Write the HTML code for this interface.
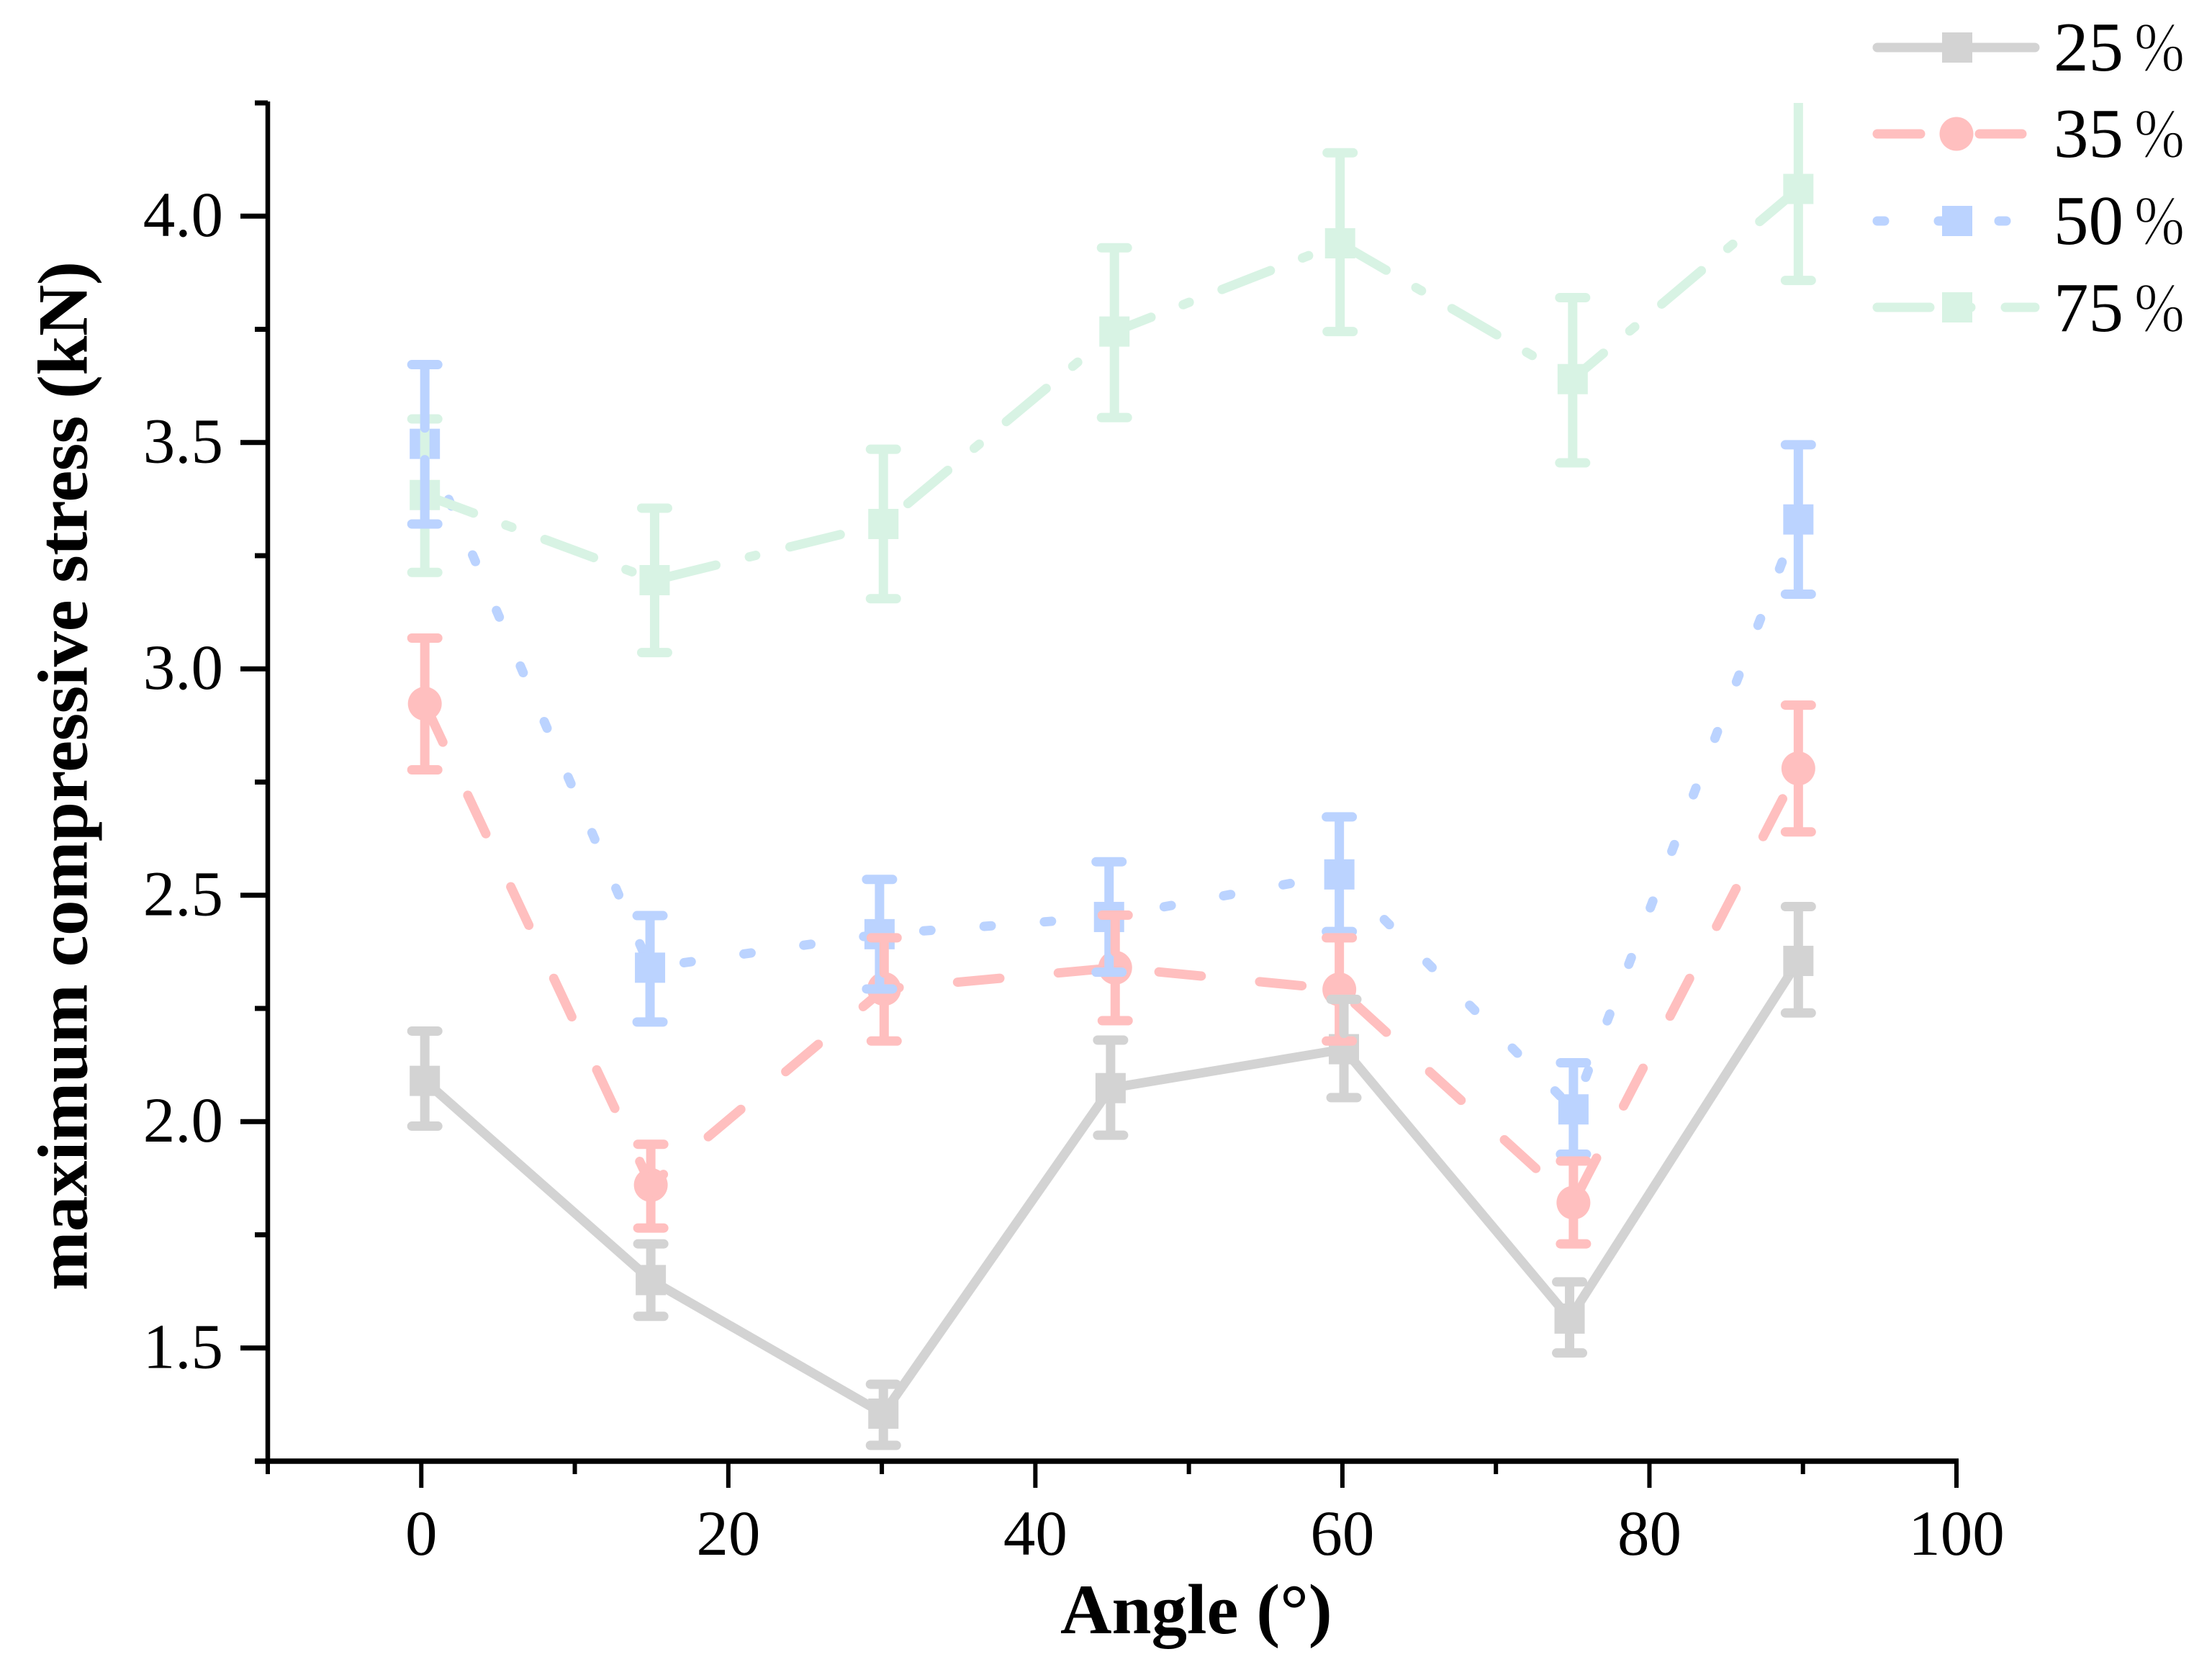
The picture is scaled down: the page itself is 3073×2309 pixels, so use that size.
<!DOCTYPE html>
<html lang="en">
<head>
<meta charset="utf-8">
<title>Maximum compressive stress vs angle</title>
<style>
html,body{margin:0;padding:0;background:#fff;}
svg{display:block;}
text{font-family:"Liberation Serif",serif;fill:#000;}
.pct{stroke:#fff;stroke-width:1.6px;}
</style>
</head>
<body>
<svg id="chart" xmlns="http://www.w3.org/2000/svg" width="3073" height="2309" viewBox="0 0 3073 2309">
  <rect width="3073" height="2309" fill="#ffffff"/>
  <defs><clipPath id="plot-clip"><rect x="340" y="143" width="2400" height="1890"/></clipPath></defs>
  <g id="plot" clip-path="url(#plot-clip)"></g>
  <g id="axes"></g>
  <text x="1473" y="2269" font-size="99" font-weight="bold">Angle (°)</text>
  <text transform="translate(120.5,1793) rotate(-90)" font-size="99" font-weight="bold" textLength="1430" lengthAdjust="spacing">maximum compressive stress (kN)</text>

  <g>
    <g>
      <line x1="2608" y1="66" x2="2827" y2="66" stroke="#D3D3D3" stroke-width="13" stroke-linecap="round"/>
      <rect x="2698" y="45" width="42" height="42" fill="#D3D3D3"/>
      <text x="2853" y="98" font-size="97">25</text>
      <text class="pct" x="2965" y="98" font-size="97" textLength="70" lengthAdjust="spacingAndGlyphs">%</text>
    </g>
    <g>
      <line x1="2608" y1="186" x2="2668" y2="186" stroke="#FFBFBF" stroke-width="13" stroke-linecap="round"/>
      <line x1="2750" y1="186" x2="2809" y2="186" stroke="#FFBFBF" stroke-width="13" stroke-linecap="round"/>
      <circle cx="2718" cy="186" r="23.5" fill="#FFBFBF"/>
      <text x="2853" y="218" font-size="97">35</text>
      <text class="pct" x="2965" y="218" font-size="97" textLength="70" lengthAdjust="spacingAndGlyphs">%</text>
    </g>
    <g>
      <line x1="2608" y1="307" x2="2618" y2="307" stroke="#BBD3FF" stroke-width="13" stroke-linecap="round"/>
      <line x1="2693" y1="307" x2="2703" y2="307" stroke="#BBD3FF" stroke-width="13" stroke-linecap="round"/>
      <line x1="2777" y1="307" x2="2787" y2="307" stroke="#BBD3FF" stroke-width="13" stroke-linecap="round"/>
      <rect x="2698" y="286" width="42" height="42" fill="#BBD3FF"/>
      <text x="2853" y="339" font-size="97">50</text>
      <text class="pct" x="2965" y="339" font-size="97" textLength="70" lengthAdjust="spacingAndGlyphs">%</text>
    </g>
    <g>
      <line x1="2608" y1="427" x2="2681" y2="427" stroke="#D8F3E4" stroke-width="13" stroke-linecap="round"/>
      <line x1="2728" y1="427" x2="2738" y2="427" stroke="#D8F3E4" stroke-width="13" stroke-linecap="round"/>
      <line x1="2786" y1="427" x2="2827" y2="427" stroke="#D8F3E4" stroke-width="13" stroke-linecap="round"/>
      <rect x="2698" y="406" width="42" height="42" fill="#D8F3E4"/>
      <text x="2853" y="460" font-size="97">75</text>
      <text class="pct" x="2965" y="460" font-size="97" textLength="70" lengthAdjust="spacingAndGlyphs">%</text>
    </g>
  </g>
</svg>
<script>
// Tick labels
const xTickLabels = [0, 20, 40, 60, 80, 100];
const xMinorTicks = [-10, 10, 30, 50, 70, 90];
const yTickLabels = ["1.5", "2.0", "2.5", "3.0", "3.5", "4.0"];
const yMinorTicks = [1.25, 1.75, 2.25, 2.75, 3.25, 3.75, 4.25];

// Axis ranges
const xDomain = [-10, 100];
const yDomain = [1.25, 4.25];

// Angle readings per series
const angles25 = [0.23, 14.95, 30.1, 44.9, 60.1, 74.8, 89.7];
const angles35 = [0.23, 14.95, 30.15, 45.2, 59.8, 75.05, 89.7];
const angles50 = [0.23, 14.9, 29.85, 44.8, 59.8, 75.05, 89.7];
const angles75 = [0.23, 15.2, 30.1, 45.15, 59.85, 75.0, 89.7];

// Mean stress values
const values25 = [2.09, 1.65, 1.355, 2.074, 2.16, 1.565, 2.355];
const values35 = [2.923, 1.86, 2.293, 2.34, 2.292, 1.821, 2.78];
const values50 = [3.497, 2.34, 2.414, 2.452, 2.546, 2.027, 3.33];
const values75 = [3.384, 3.196, 3.32, 3.745, 3.94, 3.64, 4.06];

// Error bar upper limits
const upper25 = [2.20, 1.73, 1.42, 2.18, 2.27, 1.646, 2.475];
const upper35 = [3.068, 1.95, 2.406, 2.456, 2.406, 1.913, 2.92];
const upper50 = [3.672, 2.455, 2.535, 2.574, 2.673, 2.13, 3.495];
const upper75 = [3.552, 3.355, 3.485, 3.93, 4.14, 3.82, 4.3];

// Error bar lower limits
const lower25 = [1.99, 1.57, 1.285, 1.97, 2.053, 1.489, 2.24];
const lower35 = [2.777, 1.765, 2.178, 2.223, 2.178, 1.73, 2.64];
const lower50 = [3.32, 2.22, 2.293, 2.33, 2.42, 1.928, 3.165];
const lower75 = [3.213, 3.036, 3.155, 3.555, 3.745, 3.455, 3.858];

const NS = "http://www.w3.org/2000/svg";
const plotLeft = 372, plotRight = 2718, plotTop = 143, plotBottom = 2030;

function xScale(v) {
  return plotLeft + (v - xDomain[0]) / (xDomain[1] - xDomain[0]) * (plotRight - plotLeft);
}
function yScale(v) {
  return plotBottom - (v - yDomain[0]) / (yDomain[1] - yDomain[0]) * (plotBottom - plotTop);
}
function make(tag, attrs, parent) {
  const node = document.createElementNS(NS, tag);
  for (const k in attrs) node.setAttribute(k, attrs[k]);
  parent.appendChild(node);
  return node;
}

const axes = document.getElementById("axes");
const plot = document.getElementById("plot");

// Axis lines
const yAxisLine = make("line", {x1: plotLeft, y1: plotTop - 2, x2: plotLeft, y2: plotBottom + 3, stroke: "#000", "stroke-width": 6.5}, axes);


const xAxisLine = make("line", {x1: 354, y1: plotBottom, x2: plotRight + 3, y2: plotBottom, stroke: "#000", "stroke-width": 7.5}, axes);



// X ticks
xTickLabels.forEach(function (v) {
  const x = xScale(v);
  const tick = make("line", {x1: x, y1: plotBottom, x2: x, y2: 2067, stroke: "#000", "stroke-width": 6}, axes);
  
  
  const label = make("text", {x: x, y: 2160, "font-size": 89, "text-anchor": "middle"}, axes);
  
  
  label.textContent = v;
});
xMinorTicks.forEach(function (v) {
  const x = xScale(v);
  const tick = make("line", {x1: x, y1: plotBottom, x2: x, y2: 2048, stroke: "#000", "stroke-width": 6}, axes);
  
  
});

// Y ticks
yTickLabels.forEach(function (t) {
  const y = yScale(parseFloat(t));
  const tick = make("line", {x1: 334, y1: y, x2: plotLeft, y2: y, stroke: "#000", "stroke-width": 7}, axes);
  
  
  const label = make("text", {x: 310, y: y + 27.5, "font-size": 89, "text-anchor": "end"}, axes);
  
  
  label.textContent = t;
});
yMinorTicks.forEach(function (v) {
  const y = yScale(v);
  const tick = make("line", {x1: 354, y1: y, x2: plotLeft, y2: y, stroke: "#000", "stroke-width": 7}, axes);
  
  
});

const LINE_W = 13, HALF = 21, BAR_GAP = 22, CAP_HALF = 18;

function drawLineAndMarkers(name, xs, ys, color, dash, circle) {
  const pts = xs.map(function (x, i) { return xScale(x) + "," + yScale(ys[i]); }).join(" ");
  const attrs = {points: pts, fill: "none", stroke: color, "stroke-width": LINE_W, "stroke-linecap": "round", "stroke-linejoin": "round"};
  if (dash) attrs["stroke-dasharray"] = dash;
  const line = make("polyline", attrs, plot);
  
  
  xs.forEach(function (x, i) {
    const cx = xScale(x), cy = yScale(ys[i]);
    const marker = circle
      ? make("circle", {cx: cx, cy: cy, r: 23.5, fill: color}, plot)
      : make("rect", {x: cx - HALF, y: cy - HALF, width: HALF * 2, height: HALF * 2, fill: color}, plot);
    
    
  });
}

function drawErrorBars(name, xs, ys, up, low, color) {
  xs.forEach(function (x, i) {
    const cx = xScale(x), cy = yScale(ys[i]), yu = yScale(up[i]), yl = yScale(low[i]);
    const d = "M" + cx + " " + (cy - BAR_GAP) + "V" + yu + "M" + (cx - CAP_HALF) + " " + yu + "H" + (cx + CAP_HALF) +
              "M" + cx + " " + (cy + BAR_GAP) + "V" + yl + "M" + (cx - CAP_HALF) + " " + yl + "H" + (cx + CAP_HALF);
    const bar = make("path", {d: d, fill: "none", stroke: color, "stroke-width": LINE_W, "stroke-linecap": "round"}, plot);
    
    
  });
}

const GRAY = "#D3D3D3", RED = "#FFBFBF", BLUE = "#BBD3FF", GREEN = "#D8F3E4";

drawLineAndMarkers("series-25", angles25, values25, GRAY, null, false);
drawLineAndMarkers("series-35", angles35, values35, RED, "59 81.5", true);
drawLineAndMarkers("series-50", angles50, values50, BLUE, "10 74", false);
drawLineAndMarkers("series-75", angles75, values75, GREEN, "72 48 9 49", false);

drawErrorBars("series-75", angles75, values75, upper75, lower75, GREEN);
drawErrorBars("series-50", angles50, values50, upper50, lower50, BLUE);
drawErrorBars("series-35", angles35, values35, upper35, lower35, RED);
drawErrorBars("series-25", angles25, values25, upper25, lower25, GRAY);
</script>
</body>
</html>
